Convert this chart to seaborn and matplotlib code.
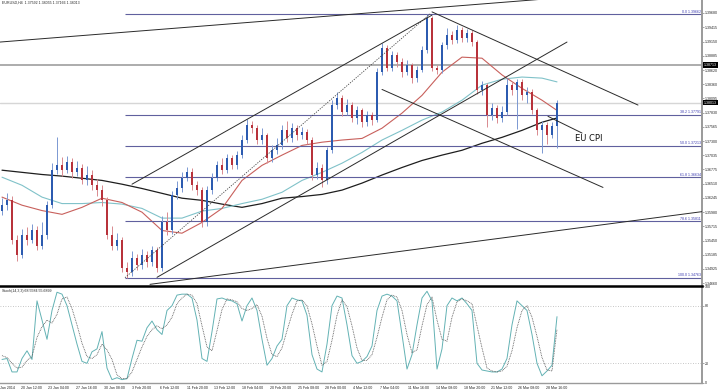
import matplotlib
matplotlib.use("Agg")
import matplotlib.pyplot as plt
import seaborn as sns
import numpy as np

# ==========================================================
# STYLE
# ==========================================================

sns.set_style("white")
plt.rcParams["font.family"] = ["Liberation Sans", "DejaVu Sans"]

# ==========================================================
# DATA  (EURUSD H4 candles)
# ==========================================================

first_open = 1.3600

closes = [
    1.3611, 1.3620, 1.3546, 1.3518, 1.3555, 1.3546, 1.3564, 1.3536, 1.3555, 1.3611,
    1.3676, 1.3685, 1.3676, 1.3691, 1.3672, 1.3680, 1.3657, 1.3667, 1.3648, 1.3639,
    1.3620, 1.3555, 1.3536, 1.3546, 1.3494, 1.3486, 1.3512, 1.3499, 1.3518, 1.3505,
    1.3527, 1.3494, 1.3579, 1.3564, 1.3629, 1.3642, 1.3661, 1.3672, 1.3648, 1.3639,
    1.3579, 1.3639, 1.3661, 1.3685, 1.3676, 1.3698, 1.3685, 1.3704, 1.3732, 1.3760,
    1.3754, 1.3732, 1.3741, 1.3698, 1.3713, 1.3722, 1.3750, 1.3735, 1.3754, 1.3741,
    1.3747, 1.3732, 1.3667, 1.3680, 1.3657, 1.3713, 1.3797, 1.3810, 1.3784, 1.3797,
    1.3773, 1.3787, 1.3765, 1.3778, 1.3769, 1.3858, 1.3903, 1.3866, 1.3890, 1.3877,
    1.3858, 1.3871, 1.3847, 1.3862, 1.3899, 1.3959, 1.3866, 1.3862, 1.3908, 1.3927,
    1.3918, 1.3936, 1.3921, 1.3931, 1.3914, 1.3825, 1.3834, 1.3778, 1.3791, 1.3773,
    1.3784, 1.3834, 1.3825, 1.3840, 1.3815, 1.3821, 1.3787, 1.3750, 1.3760, 1.3741,
    1.3759, 1.3801,
]

highs = [
    1.3625, 1.3633, 1.3628, 1.3555, 1.3566, 1.3570, 1.3576, 1.3572, 1.3580, 1.3618,
    1.3690, 1.3737, 1.3700, 1.3702, 1.3698, 1.3694, 1.3688, 1.3683, 1.3676, 1.3660,
    1.3649, 1.3626, 1.3572, 1.3560, 1.3552, 1.3505, 1.3525, 1.3520, 1.3530, 1.3526,
    1.3536, 1.3533, 1.3590, 1.3598, 1.3638, 1.3655, 1.3672, 1.3682, 1.3680, 1.3655,
    1.3645, 1.3646, 1.3670, 1.3694, 1.3698, 1.3706, 1.3705, 1.3712, 1.3741, 1.3772,
    1.3768, 1.3760, 1.3755, 1.3746, 1.3722, 1.3735, 1.3760, 1.3768, 1.3763, 1.3760,
    1.3757, 1.3752, 1.3738, 1.3692, 1.3688, 1.3720, 1.3806, 1.3822, 1.3815, 1.3808,
    1.3802, 1.3796, 1.3792, 1.3786, 1.3784, 1.3866, 1.3912, 1.3908, 1.3898, 1.3895,
    1.3884, 1.3880, 1.3876, 1.3870, 1.3906, 1.39662, 1.3962, 1.3872, 1.3915, 1.3940,
    1.3935, 1.3945, 1.3942, 1.3938, 1.3936, 1.3918, 1.3842, 1.3838, 1.3800, 1.3797,
    1.3795, 1.3848, 1.3840, 1.3845, 1.3846, 1.3830, 1.3826, 1.3792, 1.3768, 1.3766,
    1.3765, 1.38055,
]

lows = [
    1.3592, 1.3602, 1.3538, 1.3508, 1.3512, 1.3537, 1.3540, 1.3527, 1.3530, 1.3548,
    1.3605, 1.3668, 1.3665, 1.3670, 1.3662, 1.3665, 1.3650, 1.3648, 1.3640, 1.3628,
    1.3610, 1.3548, 1.3527, 1.3528, 1.3486, 1.34763, 1.3480, 1.3490, 1.3492, 1.3497,
    1.3498, 1.3486, 1.3489, 1.3555, 1.3558, 1.3622, 1.3636, 1.3655, 1.3640, 1.3630,
    1.3570, 1.3572, 1.3632, 1.3655, 1.3668, 1.3670, 1.3678, 1.3679, 1.3698, 1.3726,
    1.3745, 1.3725, 1.3724, 1.3690, 1.3692, 1.3706, 1.3716, 1.3728, 1.3729, 1.3733,
    1.3734, 1.3724, 1.3658, 1.3660, 1.3645, 1.3650, 1.3708, 1.3790, 1.3776, 1.3778,
    1.3765, 1.3762, 1.3756, 1.3758, 1.3760, 1.3765, 1.3852, 1.3860, 1.3860, 1.3868,
    1.3850, 1.3852, 1.3838, 1.3840, 1.3858, 1.3893, 1.3860, 1.3855, 1.3856, 1.3902,
    1.3910, 1.3912, 1.3914, 1.3915, 1.3906, 1.3818, 1.3816, 1.3756, 1.3770, 1.3764,
    1.3766, 1.3778, 1.3815, 1.3752, 1.3806, 1.3800, 1.3780, 1.3742, 1.3708, 1.3725,
    1.3735, 1.37166,
]

# moving averages, sampled every 4 bars
ma_bars = list(range(0, 112, 4)) + [111]

ma_red = [
    1.3626, 1.3611, 1.3601, 1.3594, 1.3607, 1.3624, 1.3616, 1.3598, 1.3564, 1.3559,
    1.3579, 1.3605, 1.3657, 1.3685, 1.3704, 1.3722, 1.3728, 1.3732, 1.3735, 1.3754,
    1.3782, 1.3815, 1.3858, 1.3886, 1.3884, 1.3853, 1.3828, 1.3806, 1.3787,
]

ma_cyan = [
    1.3663, 1.3648, 1.3626, 1.3614, 1.3614, 1.3616, 1.3613, 1.3605, 1.3587, 1.3587,
    1.3600, 1.3605, 1.3614, 1.3622, 1.3635, 1.3657, 1.3672, 1.3689, 1.3709, 1.3732,
    1.3750, 1.3769, 1.3784, 1.3806, 1.3834, 1.3845, 1.3849, 1.3847, 1.3840,
]

ma_black = [
    1.3676, 1.3672, 1.3668, 1.3665, 1.3661, 1.3657, 1.3650, 1.3642, 1.3633, 1.3624,
    1.3620, 1.3613, 1.3607, 1.3614, 1.3624, 1.3627, 1.3631, 1.3639, 1.3652, 1.3667,
    1.3681, 1.3694, 1.3704, 1.3713, 1.3726, 1.3737, 1.3750, 1.3765, 1.3773,
]

# stochastic (14,3,3)
stoch_k = [
    24, 25, 11, 11, 25, 33, 24, 85, 65, 45,
    75, 94, 92, 80, 60, 40, 22, 20, 32, 35,
    53, 15, 3, 5, 3, 4, 25, 44, 43, 57,
    64, 55, 50, 75, 80, 91, 92, 92, 88, 65,
    25, 22, 53, 87, 88, 86, 85, 82, 64, 80,
    88, 75, 45, 18, 25, 38, 45, 80, 88, 86,
    85, 70, 29, 14, 11, 40, 80, 90, 88, 60,
    28, 20, 22, 27, 38, 75, 90, 92, 90, 85,
    50, 14, 29, 60, 88, 95, 85, 14, 35, 80,
    88, 85, 88, 82, 75, 20, 13, 12, 11, 11,
    14, 25, 60, 85, 80, 75, 50, 20, 7, 12,
    18, 68.56,
]

stoch_d = [
    28, 26, 20, 15, 16, 23, 27, 47, 58, 65,
    62, 71, 87, 89, 77, 60, 41, 27, 25, 29,
    40, 34, 24, 8, 4, 4, 11, 24, 37, 48,
    55, 59, 56, 60, 68, 82, 88, 92, 91, 82,
    59, 37, 33, 54, 76, 87, 86, 84, 77, 75,
    77, 81, 69, 46, 29, 27, 36, 54, 71, 85,
    86, 80, 61, 38, 18, 22, 44, 70, 86, 79,
    59, 36, 23, 23, 29, 47, 68, 86, 91, 89,
    75, 50, 31, 34, 59, 81, 89, 65, 45, 43,
    68, 84, 87, 85, 82, 59, 36, 15, 12, 11,
    12, 17, 33, 57, 75, 80, 68, 48, 26, 13,
    12, 55.69,
]

# fibonacci retracement
fib_levels = ["0.0", "38.2", "50.0", "61.8", "78.6", "100.0"]
fib_prices = [1.39662, 1.37791, 1.37213, 1.36634, 1.35811, 1.34763]
fib_start_bar = 24.6

# trend lines (bar, price) -> (bar, price)
line_start_bar = [-0.4, 26.0, 31.0, 29.6, 86.0, 76.0, 109.2]
line_start_price = [1.3914, 1.3650, 1.3477, 1.3464, 1.3970, 1.3826, 1.3776]
line_end_bar = [140.0, 86.0, 113.0, 140.0, 127.2, 120.2, 116.0]
line_end_price = [1.4017, 1.3964, 1.3914, 1.3599, 1.3797, 1.3644, 1.3745]

# horizontal levels
level_line = 1.38713
last_price = 1.38013

price_ticks = [1.39680, 1.39415, 1.39150, 1.38885, 1.38620, 1.38360, 1.38095,
               1.37830, 1.37565, 1.37300, 1.37035, 1.36775, 1.36510, 1.36245,
               1.35980, 1.35715, 1.35450, 1.35185, 1.34925, 1.34660]

time_labels = ["Jan 2014", "20 Jan 12:00", "23 Jan 04:00", "27 Jan 16:00", "30 Jan 08:00",
               "3 Feb 20:00", "6 Feb 12:00", "11 Feb 20:00", "13 Feb 12:00",
               "18 Feb 04:00", "20 Feb 20:00", "25 Feb 08:00", "28 Feb 00:00",
               "4 Mar 12:00", "7 Mar 04:00", "11 Mar 16:00", "14 Mar 08:00",
               "18 Mar 20:00", "21 Mar 12:00", "26 Mar 08:00", "28 Mar 16:00"]
time_ticks = [-0.4, 3.8, 9.3, 14.9, 20.4, 25.9, 31.5, 37.0, 42.5, 48.0, 53.6,
              59.1, 64.6, 70.2, 75.7, 81.2, 86.8, 92.3, 97.8, 103.3, 108.9]

# ==========================================================
# FIGURE
# ==========================================================

TINY = 2.6
XLIM = (-0.4, 140.0)
BULL, BULL_WICK = "#2c5bb0", "#7b98d2"
BEAR, BEAR_WICK = "#b8323b", "#d98a8f"

fig = plt.figure(figsize=(7.2, 3.89), dpi=100)
ax = fig.add_axes([0.0, 0.2674, 0.975, 0.7326])
ax2 = fig.add_axes([0.0, 0.0167, 0.975, 0.2481])

# ---------------- candles ----------------
bars = np.arange(len(closes))
opens = np.array([first_open] + closes[:-1])
c = np.array(closes)
up = c >= opens

ax.vlines(bars, lows, highs,
          colors=np.where(up, BULL_WICK, BEAR_WICK), linewidth=0.7, zorder=3)
body = np.maximum(np.abs(c - opens), 0.00006)
ax.bar(bars, body, bottom=np.minimum(c, opens), width=0.55,
       color=np.where(up, BULL, BEAR), linewidth=0, zorder=4)

# ---------------- moving averages ----------------
sns.lineplot(x=ma_bars, y=ma_black, ax=ax, color="#1e1e1e", linewidth=0.9, zorder=2)
sns.lineplot(x=ma_bars, y=ma_cyan, ax=ax, color="#80c2c9", linewidth=0.8, zorder=2)
sns.lineplot(x=ma_bars, y=ma_red, ax=ax, color="#c8605c", linewidth=0.8, zorder=2)

# ---------------- horizontal levels ----------------
ax.axhline(level_line, color="#a6a6a6", linewidth=1.3, zorder=1)
ax.axhline(last_price, color="#d6d6d6", linewidth=1.0, zorder=1)

# ---------------- fibonacci ----------------
ax.hlines(fib_prices, fib_start_bar, XLIM[1], color="#60609e", linewidth=0.8, zorder=2)
for lvl, p in zip(fib_levels, fib_prices):
    ax.text(XLIM[1] - 0.2, p + 0.00008, f"{lvl} {p:.5f}", ha="right", va="bottom",
            fontsize=TINY, color="#3a3ab0")
ax.plot([fib_start_bar, 85.6], [fib_prices[-1], fib_prices[0]],
        color="#444444", linewidth=0.6, linestyle=(0, (1.5, 1.5)), zorder=5)

# ---------------- trend lines ----------------
for x0, p0, x1, p1 in zip(line_start_bar, line_start_price, line_end_bar, line_end_price):
    ax.plot([x0, x1], [p0, p1], color="#2a2a2a", linewidth=0.7, zorder=5)

ax.text(114.6, 1.3734, "EU CPI", fontsize=6, va="center", ha="left", color="#111111",
        family="DejaVu Sans")

# header
ax.text(0.003, 0.997, "EURUSD,H4  1.37592 1.38055 1.37166 1.38013",
        transform=ax.transAxes, ha="left", va="top", fontsize=TINY)

# price scale
ax.set_xlim(*XLIM)
ax.set_ylim(1.34628, 1.39921)
ax.yaxis.tick_right()
ax.set_yticks(price_ticks)
ax.set_yticklabels([f"{t:.5f}" for t in price_ticks])
ax.tick_params(axis="y", labelsize=TINY, length=1.5, width=0.5, pad=0.6,
               color="#808080", labelcolor="#222222")
ax.set_xticks([])
ax.set_xlabel("")
ax.set_ylabel("")
for side in ["top", "left", "bottom"]:
    ax.spines[side].set_visible(False)
ax.spines["right"].set_color("#9a9a9a")
ax.spines["right"].set_linewidth(1.4)

for p in [level_line, last_price]:
    ax.text(1.003, p, f"{p:.5f}", transform=ax.get_yaxis_transform(),
            ha="left", va="center", fontsize=TINY, color="white",
            bbox=dict(boxstyle="square,pad=0.2", fc="black", ec="none"))

# ==========================================================
# STOCHASTIC
# ==========================================================

ax2.axhline(80, color="#b4b4b4", linewidth=0.6, linestyle=(0, (1, 2)))
ax2.axhline(20, color="#b4b4b4", linewidth=0.6, linestyle=(0, (1, 2)))
sns.lineplot(x=bars, y=stoch_k, ax=ax2, color="#63b2b4", linewidth=0.7)
ax2.plot(bars, stoch_d, color="#555555", linewidth=0.6, linestyle=(0, (1, 1)))

ax2.text(0.003, 0.965, "Stoch(14,3,3) 68.5584 55.6899", transform=ax2.transAxes,
         ha="left", va="top", fontsize=TINY)

ax2.set_xlim(*XLIM)
ax2.set_ylim(0, 100.5)
ax2.yaxis.tick_right()
ax2.set_yticks([0, 20, 80, 100])
ax2.set_yticklabels(["0", "20", "80", "100"])
ax2.tick_params(axis="y", labelsize=TINY, length=1.5, width=0.5, pad=0.6,
                color="#808080", labelcolor="#222222")
ax2.set_xticks(time_ticks)
ax2.set_xticklabels(time_labels)
for lbl in ax2.get_xticklabels():
    lbl.set_ha("left")
ax2.tick_params(axis="x", labelsize=TINY, length=2, width=0.5, pad=0.8,
                color="#808080", labelcolor="#222222")
ax2.set_xlabel("")
ax2.set_ylabel("")
ax2.spines["left"].set_visible(False)
ax2.spines["top"].set_color("black")
ax2.spines["top"].set_linewidth(1.8)
ax2.spines["right"].set_color("#9a9a9a")
ax2.spines["right"].set_linewidth(1.4)
ax2.spines["bottom"].set_color("#9a9a9a")
ax2.spines["bottom"].set_linewidth(1.0)

fig.savefig("out.png", dpi=100)
